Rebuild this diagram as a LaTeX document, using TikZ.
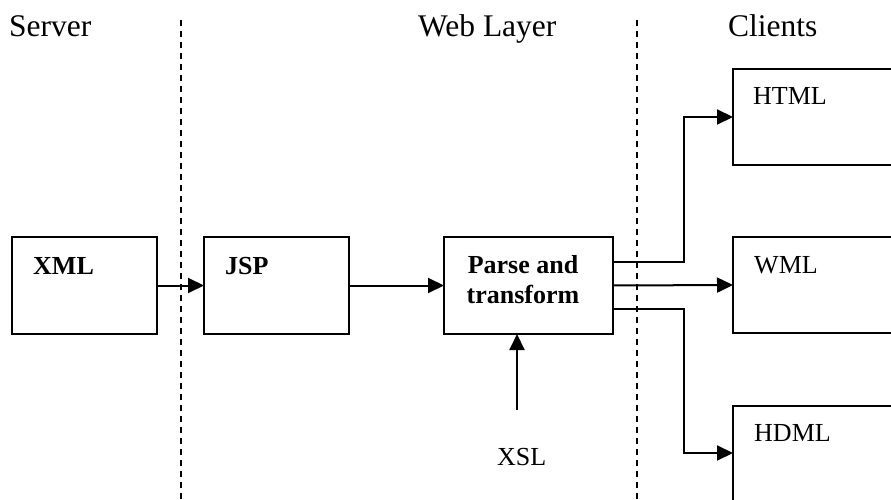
\documentclass[tikz,border=0pt]{standalone}
\usepackage{fontspec}
\setmainfont{Liberation Serif}
\usetikzlibrary{positioning,calc,arrows.meta}

\begin{document}
\begin{tikzpicture}[
    x=1pt, y=-1pt,
    box/.style={draw, line width=2pt, minimum width=145pt, minimum height=97pt, inner sep=0pt, outer sep=0pt},
    clientbox/.style={box, minimum width=200pt, minimum height=96pt, anchor=north west},
    head/.style={font=\fontsize{31.5}{36}\selectfont, anchor=base west, inner sep=0pt},
    tag/.style={font=\fontsize{26}{30}\selectfont, anchor=base west, inner sep=0pt},
    boldtag/.style={font=\fontsize{26}{30}\selectfont\bfseries, inner sep=0pt},
    flow/.style={line width=2pt, -{Triangle[length=16pt,width=15pt]}},
    tier/.style={line width=1.5pt, dash pattern=on 6pt off 5pt}
]
    \clip (0,0) rectangle (891,500);

    % tiers
    \draw[tier] (181,20) -- (181,500);
    \draw[tier] (637,20) -- (637,500);
    \node[head] (server) at (9,37) {Server};
    \node[head] (weblayer) at (418,37) {Web Layer};
    \node[head] (clients) at (728,37) {Clients};

    % server and web layer
    \node[box] (xml) at (84.5,285.5) {};
    \node[box, right=47pt of xml] (jsp) {};
    \node[box, minimum width=169pt, right=95pt of jsp] (parse) {};
    \node[boldtag, anchor=base west] (xmltxt) at (33,274) {XML};
    \node[boldtag, anchor=base west] (jsptxt) at (225,274) {JSP};
    \node[boldtag, anchor=base] (parsetxt) at (523,273) {Parse and};
    \node[boldtag, anchor=base] (transformtxt) at (523,303) {transform};
    \node[tag] (xsl) at (497,465) {XSL};

    % clients
    \node[clientbox] (html) at (733,69) {};
    \node[clientbox] (wml) at (733,237) {};
    \node[clientbox] (hdml) at (733,406) {};
    \node[tag] (htmltxt) at (753,105) {HTML};
    \node[tag] (wmltxt) at (754,273) {WML};
    \node[tag] (hdmltxt) at (754,441) {HDML};

    \coordinate (fork) at (684,0);
    \coordinate (xslend) at (517,410);
    \coordinate (hdmlin) at ($(hdml.north west)+(0,47)$);

    \draw[flow] (xml) -- (jsp);
    \draw[flow] (jsp) -- (parse);
    \draw[flow] (xslend) -- (parse.south -| xslend);
    \draw[flow] ([yshift=24pt]parse.east) -- ([yshift=24pt]parse.east -| fork) |- (html.west);
    \draw[flow] (parse.east) -- (wml.west);
    \draw[flow] ([yshift=-23pt]parse.east) -- ([yshift=-23pt]parse.east -| fork) |- (hdmlin);
\end{tikzpicture}
\end{document}
